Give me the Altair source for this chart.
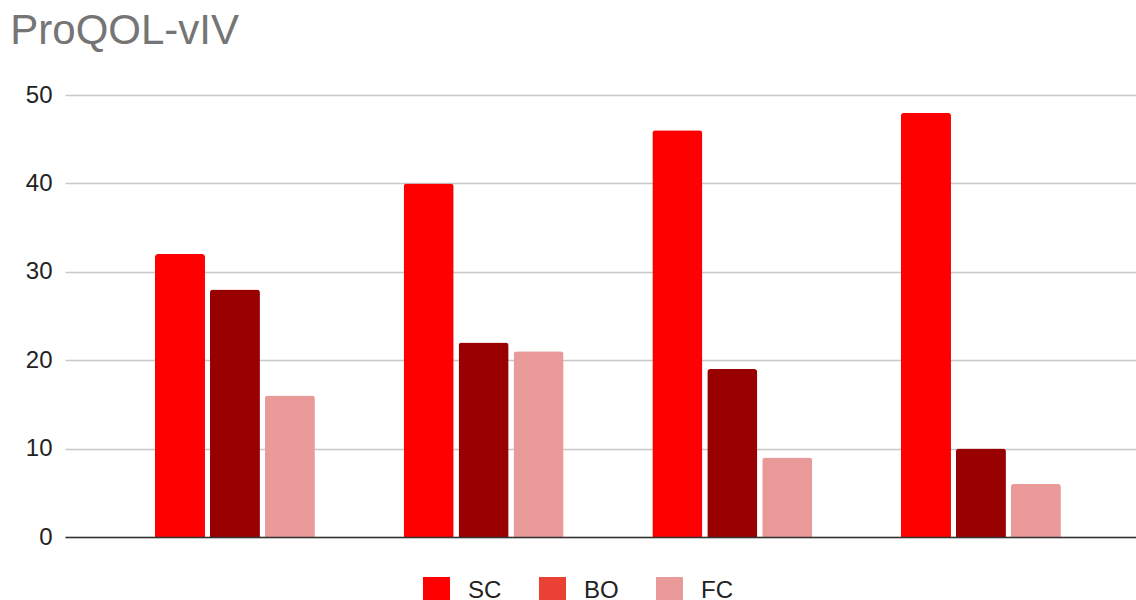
import altair as alt
import pandas as pd

# ProQOL-vIV subscale scores for four groups
groups = ["1", "2", "3", "4"]
series = ["SC", "BO", "FC"]
sc_values = [32, 40, 46, 48]
bo_values = [28, 22, 19, 10]
fc_values = [16, 21, 9, 6]

bar_colors = ["#ff0000", "#990000", "#ea9999"]
key_colors = ["#ff0000", "#e94235", "#ea9999"]

rows = []
for i, g in enumerate(groups):
    for s, vals in zip(series, [sc_values, bo_values, fc_values]):
        rows.append({"group": g, "series": s, "value": vals[i]})
df = pd.DataFrame(rows)

FONT = "Liberation Sans"

x_enc = alt.X(
    "group:N",
    sort=groups,
    title=None,
    scale=alt.Scale(paddingInner=0.357, paddingOuter=0.332, align=0.545),
    axis=alt.Axis(labels=False, ticks=False, grid=False, domainColor="#333333",
                  domainWidth=1.5, zindex=1),
)
xo_enc = alt.XOffset("series:N", sort=series,
                     scale=alt.Scale(paddingInner=0.09, paddingOuter=0))

y_scale = alt.Scale(domain=[0, 50], nice=False)

bars = alt.Chart(df).mark_bar(cornerRadiusTopLeft=3, cornerRadiusTopRight=3).encode(
    x=x_enc,
    xOffset=xo_enc,
    y=alt.Y(
        "value:Q",
        scale=y_scale,
        title=None,
        axis=alt.Axis(values=[0, 10, 20, 30, 40, 50], domain=False, ticks=False,
                      tickSize=0, labelFontSize=24, labelFont=FONT,
                      labelColor="#222222", labelPadding=13,
                      gridColor="#c8c8c8", gridWidth=1.6),
    ),
    color=alt.Color("series:N", sort=series,
                    scale=alt.Scale(domain=series, range=bar_colors), legend=None),
)

# zero-height bars that only carry the series key
key = alt.Chart(df).mark_bar().encode(
    x=x_enc,
    xOffset=xo_enc,
    y=alt.YDatum(0, scale=y_scale),
    color=alt.Color(
        "series:N",
        sort=series,
        scale=alt.Scale(domain=series, range=key_colors),
        legend=alt.Legend(
            title=None, orient="none", legendX=358, legendY=482,
            direction="horizontal", symbolType="square", symbolSize=729,
            symbolStrokeWidth=0, symbolOpacity=1, labelFontSize=24,
            labelFont=FONT, labelColor="#222222", labelOffset=18,
            columnPadding=37, padding=0,
        ),
    ),
)

chart = (
    alt.layer(bars, key)
    .resolve_scale(color="independent")
    .properties(
        width=1071,
        height=442,
        padding={"left": 65, "top": 95, "right": 0, "bottom": 63},
        autosize=alt.AutoSizeParams(type="none"),
        title=alt.TitleParams(
            "ProQOL-vIV", anchor="start", dx=-15, offset=30, fontSize=42,
            font=FONT, color="#757575", fontWeight="normal",
        ),
    )
    .configure_view(stroke=None)
)

chart.save("out.html", embed_options={"renderer": "svg", "actions": False})
